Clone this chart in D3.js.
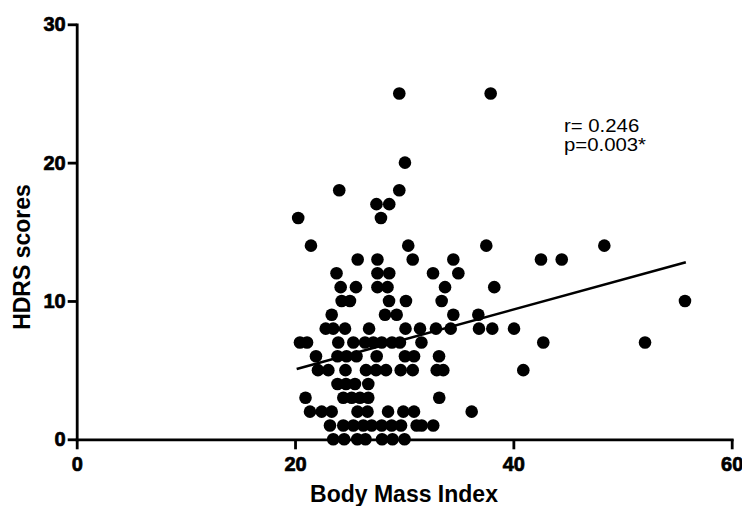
<!DOCTYPE html>
<html>
<head>
<meta charset="utf-8">
<script src="https://cdn.jsdelivr.net/npm/d3@7"></script>
<style>
    body { margin: 0; background: #fff; }
    svg { display: block; font-family: "Liberation Sans", Arial, sans-serif; }
</style>
</head>
<body>
<div id="chart"></div>
<script>
// HDRS score for each subject, and the BMI (same order)
const hdrs = [
    0, 0, 0, 0, 0, 0, 0,
    1, 1, 1, 1, 1, 1, 1, 1, 1, 1, 1,
    2, 2, 2, 2, 2, 2, 2, 2, 2,
    3, 3, 3, 3, 3, 3,
    4, 4, 4, 4,
    5, 5, 5, 5, 5, 5, 5, 5, 5, 5, 5,
    6, 6, 6, 6, 6, 6, 6, 6,
    7, 7, 7, 7, 7, 7, 7, 7, 7, 7, 7, 7,
    8, 8, 8, 8, 8, 8, 8, 8, 8, 8, 8,
    9, 9, 9, 9, 9,
    10, 10, 10, 10, 10, 10,
    11, 11, 11, 11, 11, 11,
    12, 12, 12, 12, 12,
    13, 13, 13, 13, 13, 13,
    14, 14, 14, 14,
    16, 16,
    17, 17,
    18, 18,
    20,
    25, 25
];
const bmi = [
    23.5, 24.5, 25.7, 26.45, 27.97, 28.93, 30.03,
    23.2, 24.42, 25.34, 26.25, 27.02, 27.94, 28.85, 29.71, 31.14, 31.6, 32.66,
    21.37, 22.44, 23.36, 25.72, 26.64, 28.52, 29.92, 30.9, 36.18,
    20.96, 24.42, 25.19, 25.95, 26.71, 33.21,
    23.89, 24.67, 25.49, 26.71,
    22.1, 23.05, 24.62, 26.5, 27.42, 28.33, 29.68, 30.78, 32.98, 33.58, 40.91,
    21.92, 23.89, 24.72, 25.63, 27.48, 30.07, 30.9, 33.19,
    20.45, 21.1, 23.96, 25.34, 26.41, 27.17, 27.94, 28.88, 29.61, 31.58, 42.74, 52.06,
    22.81, 23.5, 24.58, 26.78, 30.12, 31.45, 32.91, 34.26, 36.85, 38.07, 40.06,
    23.36, 28.24, 29.31, 34.5, 36.79,
    24.27, 25.03, 28.61, 30.16, 33.43, 55.72,
    24.18, 25.58, 27.55, 28.47, 33.74, 38.25,
    23.8, 27.55, 28.63, 32.64, 34.96,
    25.74, 27.55, 30.78, 34.5, 42.53, 44.43,
    21.46, 30.37, 37.52, 48.33,
    20.29, 27.87,
    27.46, 28.63,
    24.05, 29.55,
    30.07,
    29.55, 37.92
];

// linear fit drawn over the data range
const fitSlope = 0.2165;
const fitIntercept = 0.718;
const fitRange = [20.15, 55.8];

const xTicks = [0, 20, 40, 60];
const yTicks = [0, 10, 20, 30];
const statLines = ["r= 0.246", "p=0.003*"];

const width = 742, height = 506;

const svg = d3.select("#chart").append("svg")
    .attr("width", width)
    .attr("height", height);

const x = d3.scaleLinear().domain([0, 60]).range([76.7, 731.7]);
const y = d3.scaleLinear().domain([0, 30]).range([439.3, 24.3]);

function styleAxis(g) {
    g.attr("font-family", null).attr("font-size", null);
    g.select(".domain").attr("stroke-width", 2.8).attr("stroke-linecap", "square");
    g.selectAll(".tick line").attr("stroke-width", 2.8);
    g.selectAll(".tick text")
        .style("font-size", "20px")
        .style("font-weight", "bold")
        .style("fill", "#000")
        .style("stroke", "#000")
        .style("stroke-width", "0.7px");
}

// Axes
svg.append("g")
    .attr("transform", `translate(0,${y(0)})`)
    .call(d3.axisBottom(x).tickValues(xTicks).tickSize(10).tickSizeOuter(0).tickPadding(8))
    .call(styleAxis);

svg.append("g")
    .attr("transform", `translate(${x(0)},0)`)
    .call(d3.axisLeft(y).tickValues(yTicks).tickSize(9).tickSizeOuter(0).tickPadding(2))
    .call(styleAxis);

// Points
svg.append("g")
    .selectAll("circle")
    .data(d3.range(bmi.length))
    .join("circle")
    .attr("cx", i => x(bmi[i]))
    .attr("cy", i => y(hdrs[i]))
    .attr("r", 6.3)
    .attr("fill", "#000");

// Regression line
const line = d3.line()
    .x(d => x(d))
    .y(d => y(fitIntercept + fitSlope * d));

svg.append("path")
    .attr("d", line(fitRange))
    .attr("fill", "none")
    .attr("stroke", "#000")
    .attr("stroke-width", 2.5);

// r / p annotation
svg.append("g")
    .selectAll("text")
    .data(statLines)
    .join("text")
    .attr("transform", (d, i) => `translate(564,${132 + i * 19}) scale(1.1,1)`)
    .style("font-size", "18.5px")
    .text(d => d);

// Axis titles
svg.append("text")
    .attr("x", 404)
    .attr("y", 502)
    .attr("text-anchor", "middle")
    .style("font-size", "23px")
    .style("font-weight", "bold")
    .text("Body Mass Index");

svg.append("text")
    .attr("transform", "translate(30,257) rotate(-90)")
    .attr("text-anchor", "middle")
    .style("font-size", "23px")
    .style("font-weight", "bold")
    .text("HDRS scores");
</script>
</body>
</html>
